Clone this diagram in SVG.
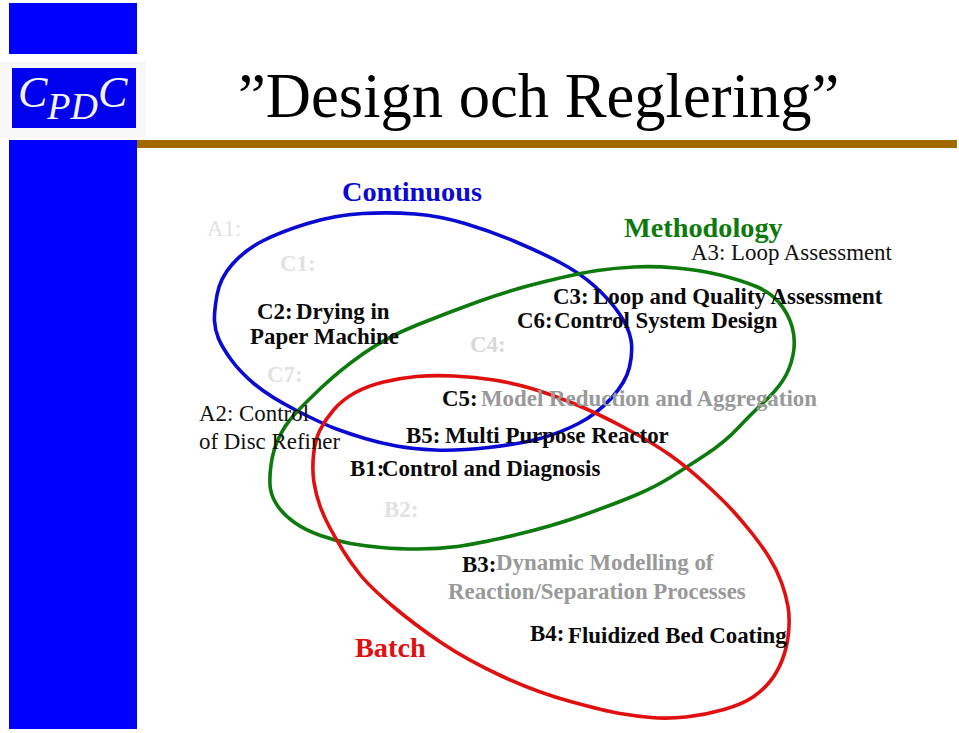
<svg xmlns="http://www.w3.org/2000/svg" width="959" height="733" viewBox="0 0 959 733">
<style>
text{font-family:"Liberation Serif","Times New Roman",serif}
.b{font-weight:bold;font-size:22.9px;fill:#0a0a0a}
.r{font-size:22.9px;fill:#111}
.g{font-size:22.9px;fill:#e2e2e2}
.gb{font-size:22.9px;fill:#e2e2e2;font-weight:bold}
.m{font-weight:bold;font-size:22.9px;fill:#999}
.t{font-size:28.3px;font-weight:bold}
.c{fill:none;stroke-width:3.6;stroke-linejoin:round}
</style>
<rect width="959" height="733" fill="#fff"/>
<g id="sidebar">
<rect x="9" y="3" width="128" height="51" fill="#0000ff"/>
<rect x="9" y="140" width="128" height="589" fill="#0000ff"/>
<rect x="137" y="140" width="820" height="8" fill="#a06a00"/>
</g>
<g id="logo">
<rect x="0" y="62" width="146" height="76" fill="#f8f8f8"/>
<rect x="12" y="68" width="124" height="60" fill="#0000ee"/>
<text x="18" y="107" font-size="44" font-style="italic" fill="#f4f4f4">C<tspan dy="12" font-size="38">PD</tspan><tspan dy="-12" font-size="44">C</tspan></text>
</g>
<text x="238" y="117" font-size="62.6" fill="#000">”Design och Reglering”</text>
<g id="connectors">
<path class="c" stroke="#0a0ad2" d="M217 295Q220 278 232.5 264Q245 250 262.5 241Q280 232 307.5 223.5Q335 215 362.5 213.5Q390 212 415 214Q440 216 465 223.5Q490 231 515 241.5Q540 252 560 262.5Q580 273 595 286.5Q610 300 619.5 314Q629 328 631 340Q633 352 629.5 367Q626 382 611.5 398Q597 414 578.5 423.5Q560 433 540 438.5Q520 444 488.5 447.5Q457 451 435 450Q413 449 396.5 446Q380 443 365 438.5Q350 434 336.5 429Q323 424 296.5 410.5Q270 397 255 384.5Q240 372 231 359.5Q222 347 218.5 338.5Q215 330 214.5 321Q214 312 217 295Z"/>
<path class="c" stroke="#0c7a0c" d="M271 465Q273 450 279 437.5Q285 425 294 415Q303 405 321.5 387.5Q340 370 363.5 353.5Q387 337 417 325Q447 313 478.5 301.5Q510 290 545 281.5Q580 273 597.5 270.5Q615 268 634 267Q653 266 676.5 268Q700 270 720 275Q740 280 755 286Q770 292 779 302.5Q788 313 792 326.5Q796 340 793 355Q790 370 782.5 381Q775 392 764 402Q753 412 739 427Q725 442 706 454.5Q687 467 671 477Q655 487 636 495Q617 503 585 514.5Q553 526 515 535Q477 544 457.5 546.5Q438 549 418 549Q398 549 381.5 547.5Q365 546 350.5 543.5Q336 541 320.5 535.5Q305 530 294.5 522.5Q284 515 278 506.5Q272 498 270.5 489Q269 480 271 465Z"/>
<path class="c" stroke="#e01010" d="M313.5 455Q315 440 320 430Q325 420 333.5 410Q342 400 354.5 393Q367 386 383.5 382Q400 378 416.5 376.5Q433 375 454 376Q475 377 494 380Q513 383 531.5 388.5Q550 394 573.5 403.5Q597 413 625 428Q653 443 670 455Q687 467 705 483.5Q723 500 733 511Q743 522 752.5 534Q762 546 769.5 558Q777 570 781.5 582.5Q786 595 788 606.5Q790 618 788.5 633Q787 648 782 660.5Q777 673 770 681.5Q763 690 753 697Q743 704 724 709.5Q705 715 686 717Q667 719 651 717.5Q635 716 620 713.5Q605 711 570.5 701.5Q536 692 501.5 676Q467 660 441 642.5Q415 625 392.5 606Q370 587 360 574.5Q350 562 343 550.5Q336 539 330 528Q324 517 320 506Q316 495 314 482.5Q312 470 313.5 455Z"/>
</g>
<g id="continuous"><text x="342" y="201" class="t" fill="#0a0ad2">Continuous</text></g>
<g id="methodology"><text x="624" y="237" class="t" fill="#0c7a0c">Methodology</text></g>
<g id="batch"><text x="355" y="657" class="t" fill="#e01010">Batch</text></g>
<g id="a1"><text x="207" y="236" class="g">A1:</text></g>
<g id="c1"><text x="280" y="271" class="gb">C1:</text></g>
<g id="c2"><text x="257" y="319" class="b">C2:</text><text x="296" y="319" class="b">Drying in</text><text x="250" y="344" class="b">Paper Machine</text></g>
<g id="c7"><text x="267" y="382" class="gb">C7:</text></g>
<g id="a2"><text x="199" y="421" class="r">A2: Control</text><text x="199" y="449" class="r">of Disc Refiner</text></g>
<g id="a3"><text x="691" y="260" class="r">A3: Loop Assessment</text></g>
<g id="c3"><text x="553" y="304" class="b">C3:</text><text x="593" y="304" class="b">Loop and Quality Assessment</text></g>
<g id="c6"><text x="517" y="328" class="b">C6:</text><text x="554" y="328" class="b">Control System Design</text></g>
<g id="c4"><text x="470" y="352" class="gb" style="fill:#d8d8d8">C4:</text></g>
<g id="c5"><text x="442" y="406" class="b">C5:</text><text x="481" y="406" class="m">Model Reduction and Aggregation</text></g>
<g id="b5"><text x="406" y="443" class="b">B5:</text><text x="445" y="443" class="b">Multi Purpose Reactor</text></g>
<g id="b1"><text x="350" y="476" class="b">B1:</text><text x="382" y="476" class="b">Control and Diagnosis</text></g>
<g id="b2"><text x="384" y="517" class="gb">B2:</text></g>
<g id="b3"><text x="462" y="572" class="b">B3:</text><text x="496" y="570" class="m">Dynamic Modelling of</text><text x="448" y="599" class="m">Reaction/Separation Processes</text></g>
<g id="b4"><text x="530" y="641" class="b">B4:</text><text x="568" y="643" class="b">Fluidized Bed Coating</text></g>
</svg>
